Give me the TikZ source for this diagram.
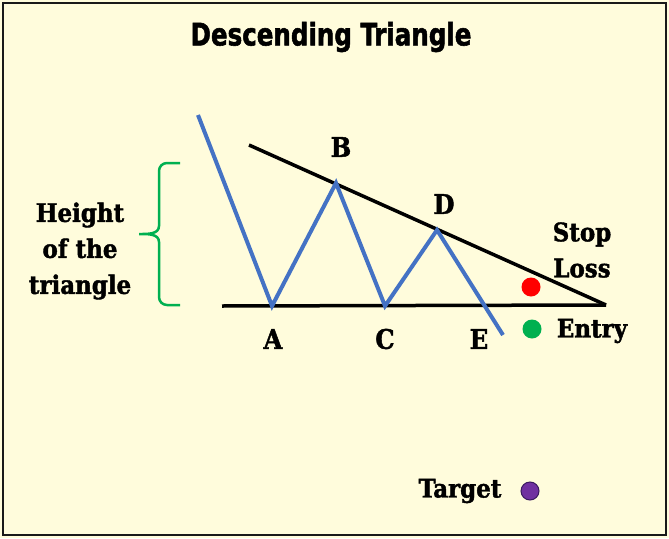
\documentclass[tikz,border=0pt]{standalone}
\usepackage{fontspec}
\usepackage{graphicx}
\setmainfont{DejaVu Serif Condensed}[BoldFeatures={FakeBold=1.6}]
\newfontfamily\titlefont{DejaVu Sans Condensed}[BoldFeatures={FakeBold=1.8}]
\definecolor{bgcream}{HTML}{FFFCDC}
\definecolor{wavblue}{HTML}{4472C4}
\definecolor{brgreen}{HTML}{00B050}
\definecolor{dotred}{HTML}{FF0000}
\definecolor{dotpurple}{HTML}{7030A0}
\definecolor{dotedge}{HTML}{3A1A60}
\begin{document}
\begin{tikzpicture}[x=1pt,y=-1pt,
  trendline/.style={line width=3.5pt,black},
  wave/.style={line width=4pt,wavblue,line join=miter},
  ptlabel/.style={font=\fontsize{27}{30}\selectfont\bfseries,inner sep=0pt},
  txtlabel/.style={font=\fontsize{25.5}{36}\selectfont\bfseries,inner sep=0pt,align=center},
  dot/.style={circle,minimum size=19pt,inner sep=0pt}
]
\useasboundingbox (0,0) rectangle (669,538);
\fill[bgcream] (0,0) rectangle (669,538);
\draw[line width=2.5pt,black!90] (3,3) rectangle (666,535);

\node[font=\titlefont\fontsize{31}{34}\selectfont\bfseries,inner sep=0pt] (title) at (331,37) {\scalebox{0.88}[1]{Descending Triangle}};

% key points
\coordinate (start) at (198,115);
\coordinate (A) at (272,306);
\coordinate (B) at (336,183);
\coordinate (C) at (385,306);
\coordinate (D) at (437,230);
\coordinate (Eend) at (503,335);
\coordinate (tstart) at (249,145);
\coordinate (apex) at (606,305);
\coordinate (bstart) at (222,306);

% support and resistance lines
\draw[trendline] (bstart) -- (apex);
\draw[trendline] (tstart) -- (apex);

% price wave
\draw[wave] (start) -- (A) -- (B) -- (C) -- (D) -- (Eend);

% point labels
\node[ptlabel] (lB) at (341,147) {B};
\node[ptlabel] (lD) at (444,204) {D};
\node[ptlabel] (lA) at (273,339) {A};
\node[ptlabel] (lC) at (385,339) {C};
\node[ptlabel] (lE) at (479,339) {E};

% brace
\draw[brgreen,line width=2.5pt] (180,163) -- (167,163) to[out=180,in=90] (159,171) -- (159,226)
  to[out=-90,in=0] (139,234) to[out=0,in=90] (159,242) -- (159,297) to[out=-90,in=180] (167,305) -- (180,305);

\node[txtlabel] (height) at (80,251) {Height\\of the\\triangle};

\node[txtlabel] (stoploss) at (582,250) {Stop\\Loss};
\node[dot,fill=dotred] (red) at (531,287) {};
\node[dot,fill=brgreen] (green) at (532,329) {};
\node[txtlabel] (entry) at (592,331) {Entry};
\node[txtlabel] (target) at (460,491) {Target};
\node[dot,fill=dotpurple,draw=dotedge,line width=1pt,minimum size=18pt] (purple) at (530,491) {};
\end{tikzpicture}
\end{document}
